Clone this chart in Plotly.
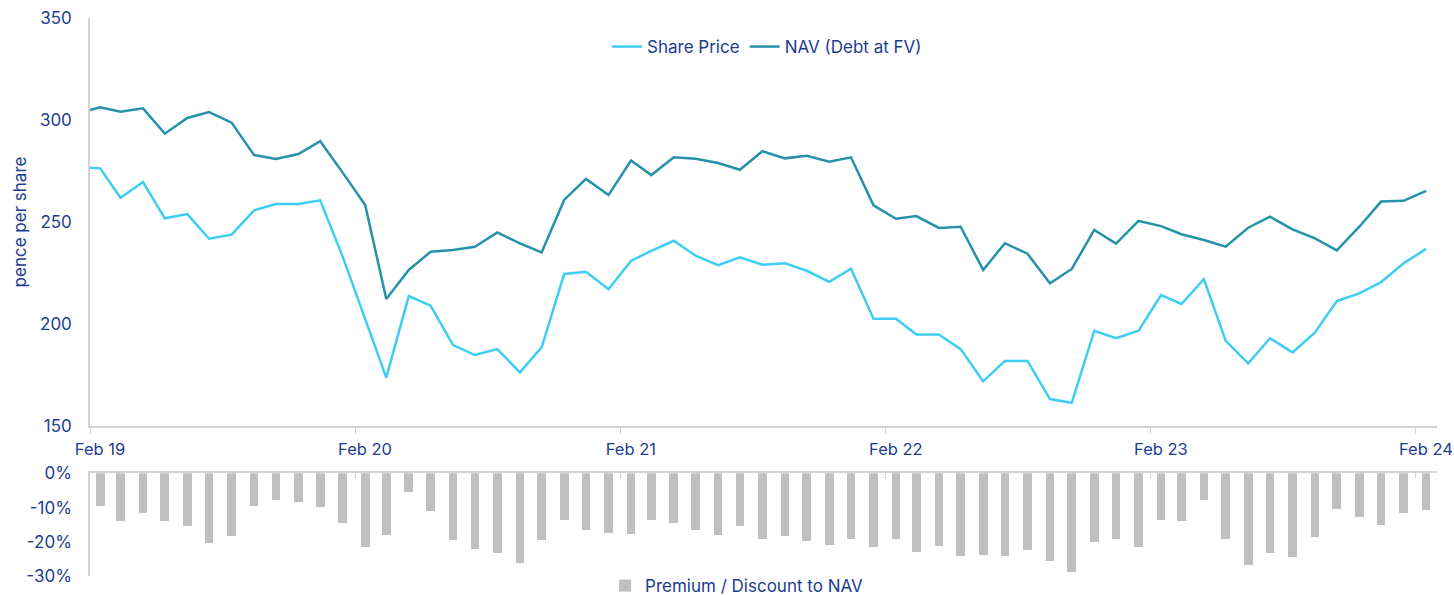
import pandas as pd
import plotly.graph_objects as go

# ---------------- data ----------------
start_date = "2019-02-01"
month_dates = list(pd.date_range("2019-02-01", "2024-02-01", freq="MS") + pd.Timedelta(days=14))
dates = [pd.Timestamp(start_date)] + month_dates

share_price = [276.6, 276.3, 261.9, 269.6, 251.8, 253.9, 241.8, 243.8, 255.7, 258.8,
               258.8, 260.6, 233.0, 202.8, 173.7, 213.7, 209.0, 189.7, 184.8, 187.7,
               176.3, 188.6, 224.5, 225.6, 217.0, 230.9, 235.9, 240.8, 233.5, 228.8,
               232.7, 229.1, 229.8, 226.1, 220.7, 227.1, 202.6, 202.6, 194.9, 194.9,
               187.7, 171.9, 181.9, 181.9, 163.2, 161.4, 196.7, 193.0, 196.7, 214.2,
               209.8, 222.0, 191.7, 180.7, 193.0, 186.1, 195.9, 211.3, 215.0, 220.5,
               229.8, 236.8]

nav = [304.9, 306.2, 304.1, 305.7, 293.3, 301.0, 303.9, 298.7, 282.8, 280.9,
       283.3, 289.6, 274.2, 258.3, 212.3, 226.5, 235.4, 236.3, 237.9, 244.9,
       239.5, 235.1, 260.8, 271.1, 263.2, 280.1, 273.0, 281.7, 281.0, 278.9,
       275.6, 284.7, 281.2, 282.5, 279.6, 281.7, 258.2, 251.6, 252.9, 247.1,
       247.7, 226.5, 239.6, 234.5, 220.0, 227.0, 246.1, 239.4, 250.5, 248.0,
       244.0, 241.2, 237.9, 247.2, 252.6, 246.4, 242.0, 236.1, 247.7, 260.0,
       260.4, 265.3]

discount_pct = [-9.7, -14.0, -11.8, -14.1, -15.6, -20.4, -18.3, -9.6, -7.9, -8.6,
                -10.0, -14.7, -21.7, -18.1, -5.5, -11.2, -19.6, -22.3, -23.3, -26.3,
                -19.7, -13.8, -16.7, -17.6, -17.7, -13.6, -14.6, -16.7, -18.1, -15.5,
                -19.4, -18.3, -19.9, -21.1, -19.2, -21.5, -19.4, -23.0, -21.2, -24.2,
                -24.1, -24.2, -22.5, -25.7, -28.8, -20.1, -19.3, -21.5, -13.6, -14.0,
                -8.0, -19.4, -26.9, -23.5, -24.5, -18.8, -10.5, -13.0, -15.1, -11.7,
                -10.8]

year_ticks = ["2019-02-01", "2020-02-01", "2021-02-01", "2022-02-01", "2023-02-01", "2024-02-01"]
year_labels = ["Feb 19", "Feb 20", "Feb 21", "Feb 22", "Feb 23", "Feb 24"]
price_ticks = [150, 200, 250, 300, 350]
disc_ticks = [0, -10, -20, -30]
disc_labels = ["0%", "-10%", "-20%", "-30%"]

# ---------------- style ----------------
TEXT = "#1c3d8e"
AXIS = "#d3d3d3"
FONT = "Inter"
FS = 17
W, H = 1454, 595

fig = go.Figure()
fig.add_trace(go.Scatter(x=dates, y=share_price, name="Share Price", mode="lines",
                         line=dict(color="#3ecdf5", width=2.5), xaxis="x", yaxis="y",
                         legend="legend"))
fig.add_trace(go.Scatter(x=dates, y=nav, name="NAV (Debt at FV)", mode="lines",
                         line=dict(color="#2592aa", width=2.5), xaxis="x", yaxis="y",
                         legend="legend"))
fig.add_trace(go.Bar(x=dates[1:], y=discount_pct, name="Premium / Discount to NAV",
                     marker=dict(color="#bfbfbf", line=dict(width=0)),
                     width=12 * 86400000, xaxis="x2", yaxis="y2", legend="legend2"))

x_range = ["2019-02-01", "2024-03-01"]

fig.update_layout(
    width=W, height=H,
    margin=dict(l=90, r=17, t=18, b=19, autoexpand=False),
    paper_bgcolor="white", plot_bgcolor="white",
    font=dict(family=FONT, size=FS, color=TEXT),
    showlegend=True,
    xaxis=dict(domain=[0, 1], anchor="y", type="date", range=x_range, automargin=False,
               tickmode="array", tickvals=year_ticks, ticktext=year_labels,
               ticks="outside", ticklen=6, tickcolor=AXIS, tickwidth=1,
               showline=True, linecolor=AXIS, linewidth=1.5, showgrid=False,
               zeroline=False, ticklabelshift=10, ticklabelstandoff=1,
               ticklabeloverflow="allow",
               tickfont=dict(size=16.5, color=TEXT)),
    yaxis=dict(domain=[0.2688, 1], anchor="x", range=[150, 350], automargin=False,
               tickmode="array", tickvals=price_ticks,
               showline=True, linecolor=AXIS, linewidth=1.5, showgrid=False,
               zeroline=False, ticks="", ticklabelstandoff=13,
               ticklabeloverflow="allow",
               tickfont=dict(size=FS, color=TEXT),
               title=dict(text="pence per share", font=dict(size=FS, color=TEXT), standoff=9)),
    xaxis2=dict(domain=[0, 1], anchor="y2", type="date", range=x_range, matches="x",
                automargin=False,
                side="top", tickmode="array", tickvals=year_ticks, showticklabels=False,
                ticks="inside", ticklen=5, tickcolor=AXIS,
                showline=True, linecolor=AXIS, linewidth=1.5, showgrid=False, zeroline=False),
    yaxis2=dict(domain=[0, 0.184], anchor="x2", range=[-30, 0], automargin=False,
                tickmode="array", tickvals=disc_ticks, ticktext=disc_labels,
                showline=True, linecolor=AXIS, linewidth=1.5, showgrid=False,
                zeroline=False, ticks="", ticklabelstandoff=13,
                ticklabeloverflow="allow",
                tickfont=dict(size=FS, color=TEXT)),
    legend=dict(orientation="h", x=0.5026, xanchor="center",
                yref="container", y=1 - 47 / H, yanchor="middle",
                font=dict(size=FS, color=TEXT), bgcolor="rgba(0,0,0,0)", itemwidth=30),
    legend2=dict(orientation="h", x=0.48, xanchor="center",
                 yref="container", y=1 - 586 / H, yanchor="middle",
                 font=dict(size=FS, color=TEXT), bgcolor="rgba(0,0,0,0)"),
    bargap=0,
)

fig.write_html("out.html", config={"displayModeBar": False},
               post_script="document.body.style.margin='0';document.body.style.overflow='hidden';")
